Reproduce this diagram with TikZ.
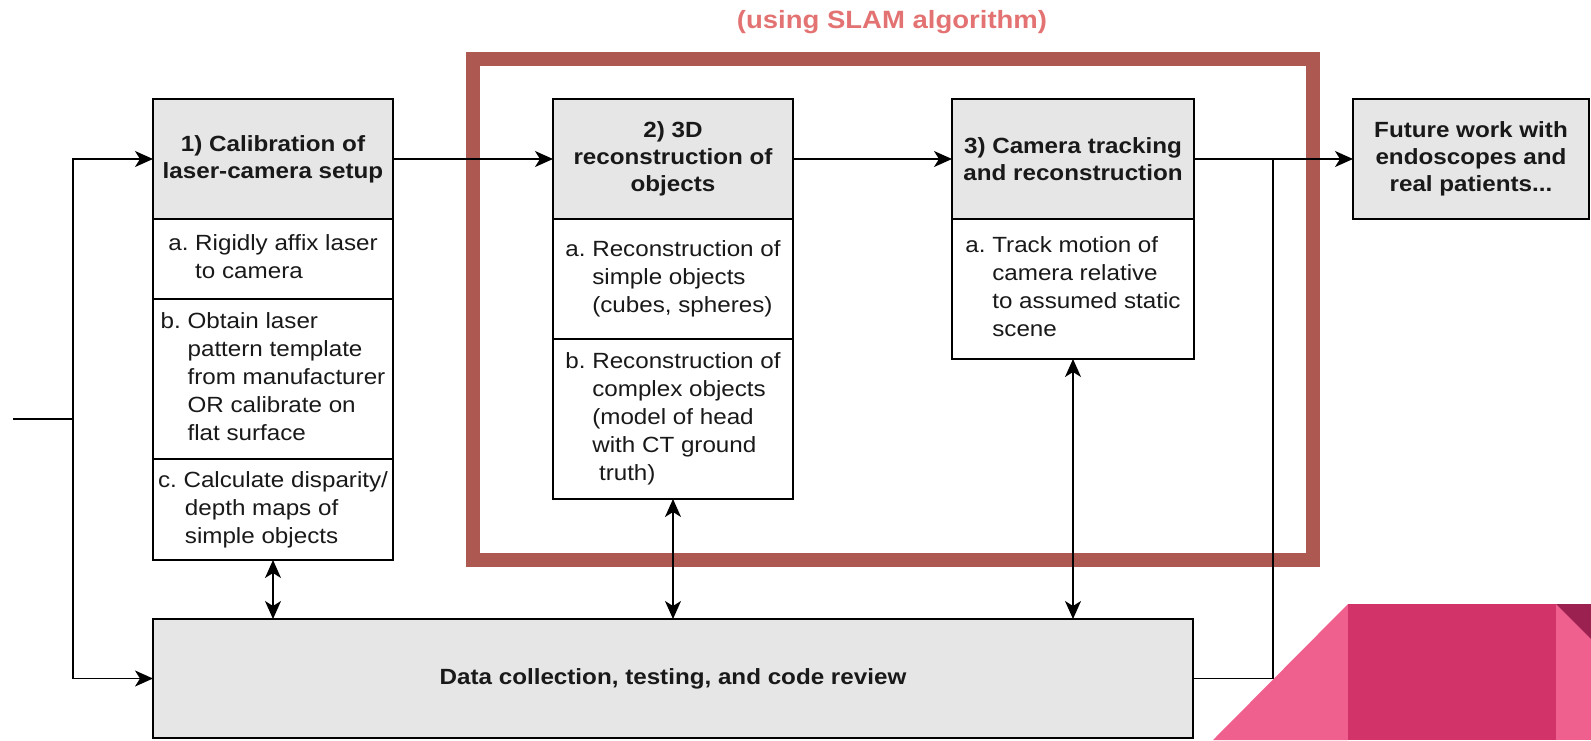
\documentclass[tikz,border=0pt]{standalone}
\usepackage{fontspec}
\setmainfont{Liberation Sans}[FakeStretch=1.1]
\usepackage{tikz}
\usetikzlibrary{positioning,arrows.meta}
\definecolor{boxgrey}{HTML}{E6E6E6}
\definecolor{slamred}{HTML}{AE5852}
\definecolor{titlered}{HTML}{E37373}
\definecolor{pinklight}{HTML}{F0608E}
\definecolor{pinkdark}{HTML}{D23369}
\definecolor{pinkdeep}{HTML}{9B2150}
\newcommand{\ind}{\phantom{a.~}}
\newcommand{\steps}[1]{\begin{tabular}{@{}l@{}}#1\end{tabular}}

\begin{document}
\begin{tikzpicture}[x=0.5pt,y=-0.5pt,line width=0.8pt]
\tikzstyle{every node}=[font=\fontsize{11}{14}\selectfont, text=black!90, inner sep=0pt, outer sep=0pt]
\tikzstyle{head}=[draw, fill=boxgrey, font=\fontsize{11}{13.5}\selectfont\bfseries, align=center, minimum height=60pt, minimum width=120pt, anchor=north west]
\tikzstyle{sub}=[draw, fill=white, minimum width=120pt]
\tikzstyle{link}=[-{Stealth[length=9pt,width=8pt,inset=2.5pt]}]
\tikzstyle{both}=[{Stealth[length=9pt,width=8pt,inset=2.5pt]}-{Stealth[length=9pt,width=8pt,inset=2.5pt]}]
\useasboundingbox (0,0) rectangle (1591,740);

\fill[pinklight] (1213,740) -- (1348,604) -- (1348,740) -- cycle;
\fill[pinklight] (1556,604) rectangle (1591,740);
\fill[pinkdark] (1348,604) rectangle (1556,740);
\fill[pinkdeep] (1556,604) -- (1591,604) -- (1591,639) -- cycle;

\draw[slamred, line width=7pt] (473,59) rectangle (1313,560);
\node[text=titlered, font=\fontsize{12.5}{15}\selectfont\bfseries] (slamtitle) at (892,22) {(using SLAM algorithm)};

\node[head] (calib) at (153,99) {1) Calibration of\\laser-camera setup};
\node[sub, below=0pt of calib, minimum height=40pt] (calibA)
  {\steps{a.~Rigidly affix laser\\\ind to camera}};
\node[sub, below=0pt of calibA, minimum height=80pt] (calibB)
  {\steps{b.~Obtain laser\\\ind pattern template\\\ind from manufacturer\\\ind OR calibrate on\\\ind flat surface}};
\node[sub, below=0pt of calibB, minimum height=50.5pt] (calibC)
  {\steps{c.~Calculate disparity/\\\ind depth maps of\\\ind simple objects}};

\node[head] (recon) at (553,99) {2) 3D\\reconstruction of\\objects};
\node[sub, below=0pt of recon, minimum height=60pt] (reconA)
  {\steps{a.~Reconstruction of\\\ind simple objects\\\ind (cubes, spheres)}};
\node[sub, below=0pt of reconA, minimum height=80pt] (reconB)
  {\steps{b.~Reconstruction of\\\ind complex objects\\\ind (model of head\\\ind with CT ground\\\ind\ truth)}};

\node[head, minimum width=121pt] (track) at (952,99) {3) Camera tracking\\and reconstruction};
\node[sub, below=0pt of track, minimum width=121pt, minimum height=70pt] (trackA)
  {\steps{a.~Track motion of\\\ind camera relative\\\ind to assumed static\\\ind scene}};

\node[head, minimum width=118pt] (future) at (1353,99) {Future work with\\endoscopes and\\real patients...};

\node[head, minimum width=520pt, minimum height=59.5pt] (data) at (153,619) {Data collection, testing, and code review};

\coordinate (in) at (13,419);
\coordinate (split) at (73,419);
\coordinate (join) at (1273,159);
\draw (in) -- (split);
\draw[link] (split) |- (calib.west);
\draw[link] (split) |- (data.west);
\draw[link] (calib.east) -- (recon.west);
\draw[link] (recon.east) -- (track.west);
\draw[link] (track.east) -- (future.west);
\draw (data.east) -| (join);
\draw[both] (calibC.south) -- (calibC.south |- data.north);
\draw[both] (reconB.south) -- (reconB.south |- data.north);
\draw[both] (trackA.south) -- (trackA.south |- data.north);
\end{tikzpicture}
\end{document}
